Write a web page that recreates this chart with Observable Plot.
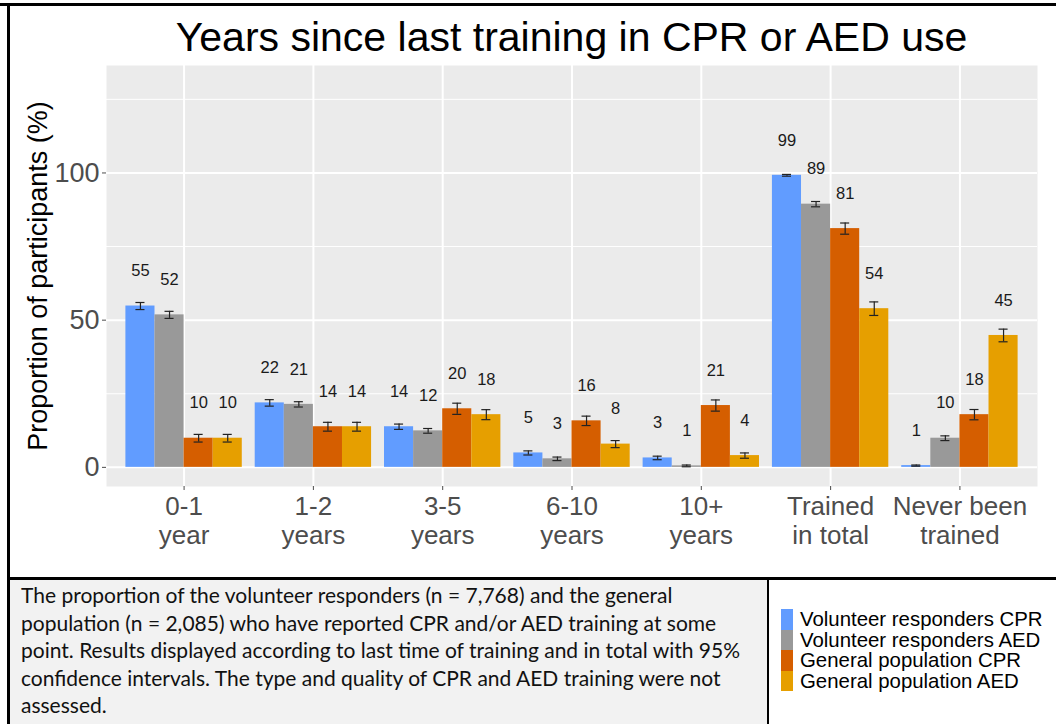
<!DOCTYPE html>
<html>
<head>
<meta charset="utf-8">
<script src="https://cdn.jsdelivr.net/npm/d3@7"></script>
<script src="https://cdn.jsdelivr.net/npm/@observablehq/plot@0.6"></script>
<style>
  html, body { margin: 0; padding: 0; background: #fff; }
  #wrap { position: relative; width: 1056px; height: 724px; overflow: hidden; background: #fff; }
  #wrap > * { position: absolute; }
  #title { left: 106px; width: 931px; top: 17px; text-align: center; font-family: "Liberation Sans", Arial, sans-serif; font-size: 41px; line-height: 41px; color: #000; white-space: nowrap; }
  #chart { left: 0; top: 0; }
  .line { background: #000; }
  #caption { left: 10px; top: 579px; width: 757px; height: 145px; background: #f2f2f2; }
  #captext { left: 21px; top: 581px; font-family: Lato, "Open Sans", sans-serif; font-size: 21px; line-height: 27.5px; color: #111; white-space: nowrap; }
  #legend { left: 781px; top: 609px; font-family: "Liberation Sans", Arial, sans-serif; font-size: 20.4px; line-height: 20.6px; color: #000; white-space: nowrap; }
  .item { position: relative; height: 20.6px; }
  .sw { position: absolute; left: 0; top: 0; width: 12px; height: 20.6px; }
  .lab { position: absolute; left: 19px; top: 0; }
</style>
</head>
<body>
<div id="wrap">
  <div id="caption"></div>
  <div id="chart"></div>
  <div id="title"></div>
  <div id="captext"></div>
  <div id="legend"></div>
  <div class="line" style="left:0;top:3px;width:1056px;height:2.5px"></div>
  <div class="line" style="left:7px;top:3px;width:2.5px;height:721px"></div>
  <div class="line" style="left:7px;top:577px;width:1049px;height:2.5px"></div>
  <div class="line" style="left:767px;top:577px;width:2px;height:147px"></div>
</div>
<script>
// ---- data ----
const titleText = "Years since last training in CPR or AED use";
const yTitle = "Proportion of participants (%)";
const categories = ["0-1\nyear", "1-2\nyears", "3-5\nyears", "6-10\nyears", "10+\nyears", "Trained\nin total", "Never been\ntrained"];
const seriesNames = ["Volunteer responders CPR", "Volunteer responders AED", "General population CPR", "General population AED"];
const seriesColors = ["#619CFF", "#999999", "#D55E00", "#E69F00"];

const vrCPR = [54.8, 21.9, 13.8, 4.9, 3.2, 99.2, 0.6];
const vrAED = [51.8, 21.4, 12.4, 2.9, 0.5, 89.4, 9.9];
const gpCPR = [9.9, 13.8, 19.9, 15.8, 21.0, 81.1, 17.9];
const gpAED = [9.9, 13.8, 17.9, 7.9, 4.0, 53.9, 44.8];

// 95% CI half-widths (percentage points)
const vrCPRci = [1.2, 1.1, 0.9, 0.7, 0.6, 0.3, 0.2];
const vrAEDci = [1.2, 0.9, 0.8, 0.6, 0.3, 0.9, 0.8];
const gpCPRci = [1.3, 1.5, 1.9, 1.6, 1.9, 1.9, 1.75];
const gpAEDci = [1.3, 1.5, 1.7, 1.2, 0.9, 2.3, 2.15];

const yMajor = [0, 50, 100];
const yMinor = [25, 75, 125];

const captionLines = [
  "The proportion of the volunteer responders (n = 7,768) and the general",
  "population (n = 2,085) who have reported CPR and/or AED training at some",
  "point. Results displayed according to last time of training and in total with 95%",
  "confidence intervals. The type and quality of CPR and AED training were not",
  "assessed."
];

// ---- build ----
const seriesValues = [vrCPR, vrAED, gpCPR, gpAED];
const seriesCI = [vrCPRci, vrAEDci, gpCPRci, gpAEDci];
const rows = categories.flatMap((c, i) => seriesNames.map((s, j) => ({
  cat: c, ci: i, s, sj: j, value: seriesValues[j][i], err: seriesCI[j][i]
})));

const bw = 0.225;      // bar width in category units (dodge 0.9)
const capHalf = 0.035; // error-bar cap half width
const center = d => d.ci + (d.sj - 1.5) * bw;

const chart = Plot.plot({
  width: 1056,
  height: 578,
  marginTop: 65,
  marginBottom: 92,
  marginLeft: 106,
  marginRight: 19,
  x: {domain: [-0.6, categories.length - 0.4]},
  y: {domain: [-6.5, 136.5]},
  color: {domain: seriesNames, range: seriesColors},
  style: {fontFamily: "'Liberation Sans', Arial, sans-serif", background: "transparent", overflow: "visible"},
  marks: [
    Plot.frame({fill: "#ebebeb", stroke: null}),
    Plot.ruleY(yMinor, {stroke: "#ffffff", strokeWidth: 1}),
    Plot.ruleY(yMajor, {stroke: "#ffffff", strokeWidth: 2}),
    Plot.ruleX(d3.range(categories.length), {stroke: "#ffffff", strokeWidth: 2}),
    Plot.rectY(rows, {
      x1: d => d.ci + (d.sj - 2) * bw,
      x2: d => d.ci + (d.sj - 1) * bw,
      y1: 0, y2: "value", fill: "s"
    }),
    Plot.ruleX(rows, {x: center, y1: d => d.value - d.err, y2: d => d.value + d.err, stroke: "#222", strokeWidth: 1.2}),
    Plot.ruleY(rows, {y: d => d.value - d.err, x1: d => center(d) - capHalf, x2: d => center(d) + capHalf, stroke: "#222", strokeWidth: 1.2}),
    Plot.ruleY(rows, {y: d => d.value + d.err, x1: d => center(d) - capHalf, x2: d => center(d) + capHalf, stroke: "#222", strokeWidth: 1.2}),
    Plot.text(rows, {x: center, y: "value", dy: -35, text: d => String(Math.round(d.value)), fontSize: 16.5, fill: "#1a1a1a"}),
    Plot.axisY({ticks: yMajor, tickSize: 4, tickPadding: 3, fontSize: 27, color: "#4d4d4d", label: null}),
    Plot.axisX({ticks: d3.range(categories.length), tickFormat: i => categories[i], tickSize: 4, tickPadding: 4, fontSize: 26, lineHeight: 1.12, color: "#4d4d4d", label: null}),
    Plot.text([yTitle], {frameAnchor: "left", textAnchor: "middle", lineAnchor: "middle", rotate: -90, dx: -68, fontSize: 27, fill: "#000"})
  ]
});
document.getElementById("chart").append(chart);
document.getElementById("title").textContent = titleText;
document.getElementById("captext").innerHTML = captionLines.map(l => `<div>${l}</div>`).join("");
document.getElementById("legend").innerHTML = seriesNames.map((s, j) =>
  `<div class="item"><div class="sw" style="background:${seriesColors[j]}"></div><div class="lab">${s}</div></div>`).join("");
</script>
</body>
</html>
